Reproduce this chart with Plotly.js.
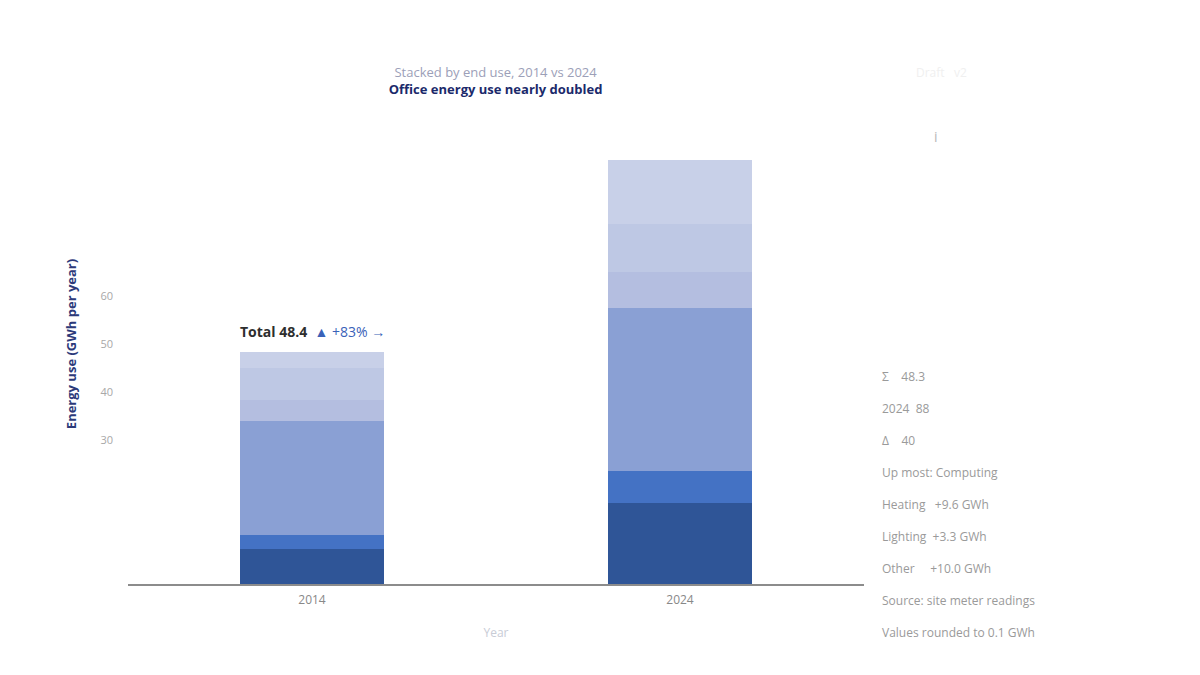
<!DOCTYPE html>
<html>
<head>
<meta charset="utf-8">
<script src="https://cdn.plot.ly/plotly-3.0.1.min.js"></script>
<style>
  html, body { margin: 0; padding: 0; background: #fff; }
  #chart { width: 1200px; height: 675px; }
</style>
</head>
<body>
<div id="chart"></div>
<script>
var CHART = document.getElementById('chart');

// categories on the x axis
var years = ['2014', '2024'];

// stacked segments, bottom to top
var seriesNames = ['Heating', 'Cooling', 'Computing', 'Lighting', 'Ventilation', 'Other'];
var heating     = [7.3, 16.9];
var cooling     = [2.9, 6.7];
var computing   = [23.8, 33.8];
var lighting    = [4.4, 7.7];
var ventilation = [6.7, 10.0];
var other       = [3.3, 13.3];
var seriesColors = ['#2f5597', '#4472c4', '#8aa0d4', '#b4bee0', '#bec8e4', '#c8d0e8'];

var yTicks = [30, 40, 50, 60];

// notes shown on the right side
var noteLines = [
  'Σ    48.3',
  '2024  88',
  'Δ    40',
  'Up most: Computing',
  'Heating   +9.6 GWh',
  'Lighting  +3.3 GWh',
  'Other     +10.0 GWh',
  'Source: site meter readings',
  'Values rounded to 0.1 GWh'
];

var allSeries = [heating, cooling, computing, lighting, ventilation, other];

var data = [];
for (let i = 0; i < allSeries.length; i++) {
  data.push({
    type: 'bar',
    x: years,
    y: allSeries[i],
    name: seriesNames[i],
    marker: { color: seriesColors[i], line: { width: 0 } },
    hoverinfo: 'x+y+name'
  });
}

// totals, used for the label above the first bar
let total0 = 0;
let total1 = 0;
for (let i = 0; i < allSeries.length; i++) {
  total0 += allSeries[i][0];
  total1 += allSeries[i][1];
}
let growth = Math.round((total1 / total0 - 1) * 100);

var annotations = [];
annotations.push({
  x: 0, y: total0, xref: 'x', yref: 'y',
  yanchor: 'bottom', xanchor: 'center', yshift: 9, showarrow: false,
  text: '<b style="color:#2e2e2e">Total ' + total0.toFixed(1) + '</b>  ' +
        '<span style="color:#3a62b8">▲ +' + growth + '% →</span>',
  font: { family: 'Open Sans', size: 14 }
});

for (let i = 0; i < noteLines.length; i++) {
  annotations.push({
    xref: 'paper', yref: 'paper',
    x: 1.022, y: (584 - (376 + 32 * i)) / 480,
    xanchor: 'left', yanchor: 'middle', showarrow: false, align: 'left',
    text: noteLines[i],
    font: { family: 'Open Sans', size: 12, color: '#9a9a9a' }
  });
}

annotations.push({
  xref: 'paper', yref: 'paper', x: 1.098, y: 0.933,
  xanchor: 'center', yanchor: 'middle', showarrow: false,
  text: 'i', font: { family: 'Open Sans', size: 14, color: '#b8b8b8' }
});

// faint mark in the top right corner
annotations.push({
  xref: 'paper', yref: 'paper', x: 1.068, y: (584 - 72) / 480,
  xanchor: 'left', yanchor: 'middle', showarrow: false,
  text: 'Draft   v2', font: { family: 'Open Sans', size: 12, color: '#f0f0f0' }
});

var layout = {
  width: 1200,
  height: 675,
  barmode: 'stack',
  bargap: 0.61,
  showlegend: false,
  paper_bgcolor: '#ffffff',
  plot_bgcolor: '#ffffff',
  margin: { l: 128, r: 336, t: 104, b: 91 },
  font: { family: 'Open Sans', color: '#777' },
  title: {
    text: '<span style="color:#9ca0b8">Stacked by end use, 2014 vs 2024</span><br>' +
          '<b style="color:#1b2a6b">Office energy use nearly doubled</b>',
    x: 0.413, xanchor: 'center',
    y: 0.886, yanchor: 'top',
    font: { family: 'Open Sans', size: 13 }
  },
  xaxis: {
    type: 'category',
    range: [-0.5, 1.5],
    showline: true, linecolor: '#8c8c8c', linewidth: 2,
    showgrid: false, zeroline: false, ticks: '',
    ticklabelstandoff: 4,
    tickfont: { size: 12, color: '#888' },
    title: { text: 'Year', font: { size: 12, color: '#c8ccd6' }, standoff: 21 }
  },
  yaxis: {
    range: [0, 100],
    tickvals: yTicks,
    showgrid: false, zeroline: false, showline: false, ticks: '',
    ticklabelstandoff: 14,
    tickfont: { size: 11, color: '#a8a8a8' },
    title: { text: '<b>Energy use (GWh per year)</b>', font: { size: 13, color: '#2c3a7a' }, standoff: 20 }
  },
  annotations: annotations
};

Plotly.newPlot(CHART, data, layout, { displayModeBar: false, staticPlot: true });
</script>
</body>
</html>
